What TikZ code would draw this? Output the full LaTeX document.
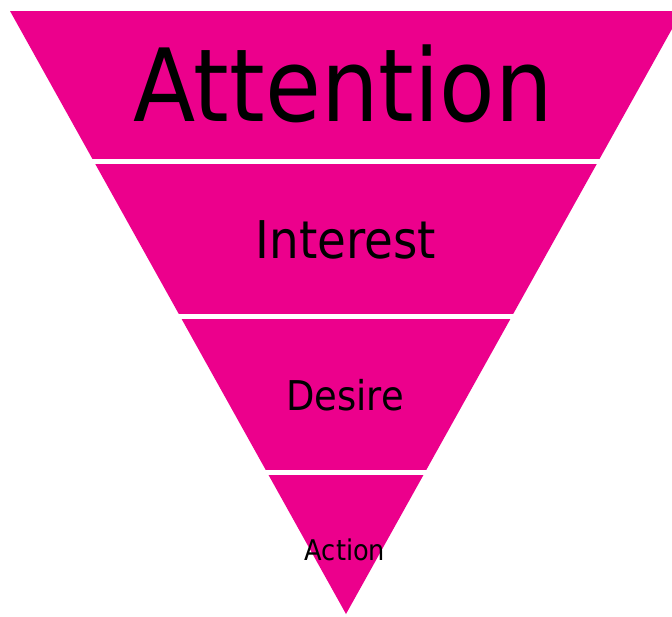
\documentclass[tikz,border=0pt]{standalone}
\usepackage{fontspec}
\setmainfont{DejaVu Sans Condensed}
\usepackage{tikz}

\definecolor{funnelpink}{RGB}{236,0,140}

\begin{document}
\begin{tikzpicture}[
                x=1pt, y=-1pt,
                band/.style={fill=funnelpink, draw=none}, % pink funnel
                gap/.style={fill=white, draw=none}, % white strips between stages
                stage/.style={anchor=base, text=black, inner sep=0pt}
                ]
                \useasboundingbox (0,0) rectangle (672,616);
                \fill[band] (10,11) -- (682,11) -- (346,614) -- cycle;
                \foreach \top/\bot in {159/164, 314/319, 470/475}
                    \fill[gap] (0,\top) rectangle (672,\bot);
                \node[stage, font=\fontsize{101}{106}\selectfont] (attention) at (343,121) {Attention};
                \node[stage, font=\fontsize{52}{56}\selectfont] (interest) at (346,258) {Interest};
                \node[stage, font=\fontsize{41}{45}\selectfont] (desire) at (345,410) {Desire};
                \node[stage, font=\fontsize{28.5}{32}\selectfont] (action) at (345,560) {Action};
            \end{tikzpicture}
\end{document}
